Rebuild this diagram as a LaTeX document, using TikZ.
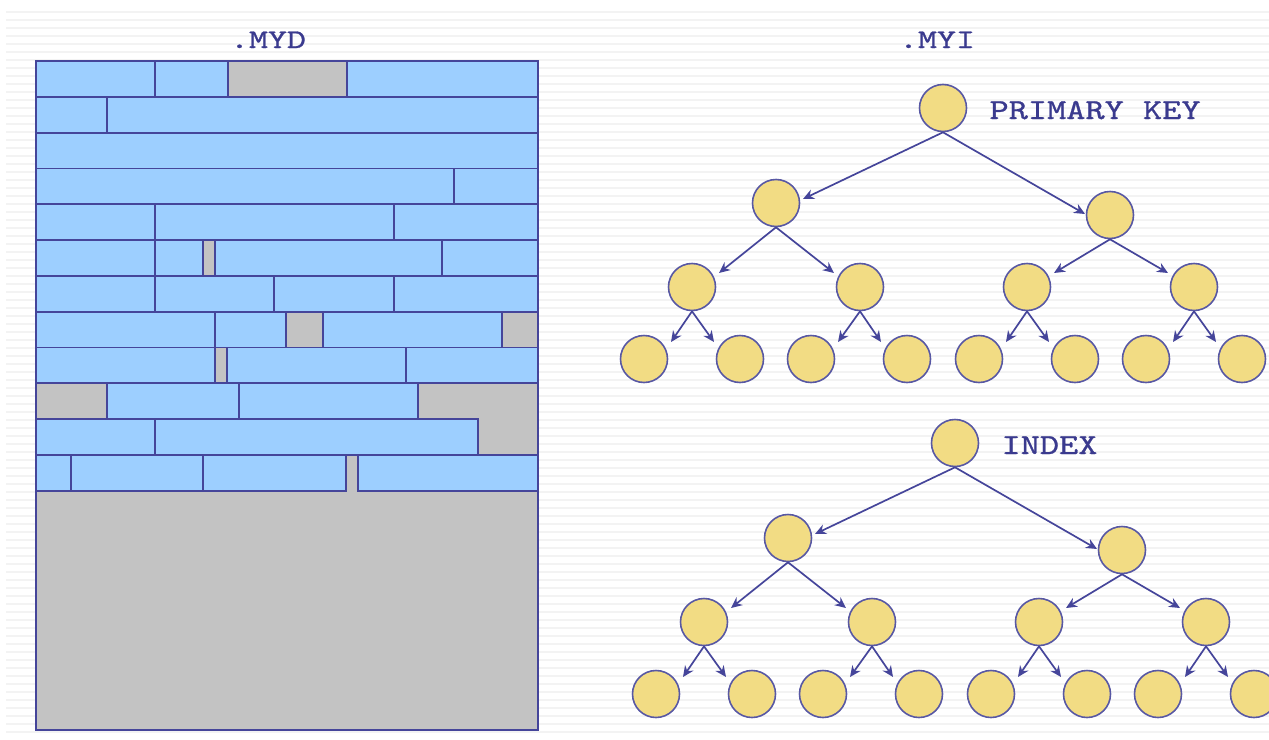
\documentclass[tikz,border=0pt]{standalone}
\usepackage{fontspec}
\newfontfamily\slabmono{lmmono10-regular.otf}[FakeStretch=1.26, FakeBold=1.0]
\newfontfamily\slabwide{lmmono10-regular.otf}[FakeStretch=1.34, FakeBold=1.0]
\usetikzlibrary{arrows.meta}

\definecolor{recblue}{HTML}{9DCFFF}
\definecolor{freegray}{HTML}{C3C3C3}
\definecolor{edgeblue}{HTML}{45459A}
\definecolor{keyyellow}{HTML}{F2DC84}
\definecolor{inkblue}{HTML}{3A3A8E}
\definecolor{texture}{HTML}{F3F3F3}

\tikzset{
  record/.style={fill=recblue, draw=edgeblue, line width=1.8pt},
  keynode/.style={circle, minimum size=47pt, inner sep=0pt, fill=keyyellow,
                  draw=edgeblue!90, line width=1.6pt},
  link/.style={draw=edgeblue, line width=1.7pt, -{Stealth[length=11pt,width=10pt]}},
  filetitle/.style={font=\slabwide\fontsize{27}{27}\selectfont, text=inkblue, anchor=base},
  treelabel/.style={font=\slabmono\fontsize{29}{29}\selectfont, text=inkblue, anchor=base west},
}

% a complete binary tree of depth three with a caption next to its root
\newcommand\keytree[2]{%
  \node[keynode] (#1r) at (943,108) {};
  \node[treelabel] (#1lbl) at (986,119) {#2};
  \node[keynode] (#1a) at (776,203) {};
  \node[keynode] (#1b) at (1110,215) {};
  \node[keynode] (#1aa) at (692,287) {};
  \node[keynode] (#1ab) at (860,287) {};
  \node[keynode] (#1ba) at (1027,287) {};
  \node[keynode] (#1bb) at (1194,287) {};
  \node[keynode] (#1aaa) at (644,359) {};
  \node[keynode] (#1aab) at (740,359) {};
  \node[keynode] (#1aba) at (811,359) {};
  \node[keynode] (#1abb) at (907,359) {};
  \node[keynode] (#1baa) at (979,359) {};
  \node[keynode] (#1bab) at (1075,359) {};
  \node[keynode] (#1bba) at (1146,359) {};
  \node[keynode] (#1bbb) at (1242,359) {};
  \draw[link] (#1r.south) -- ([shift={(27,-4)}]#1a.center);
  \draw[link] (#1r.south) -- ([shift={(-25,-1)}]#1b.center);
  \foreach \p in {a,b}{
    \draw[link] (#1\p.south) -- ([shift={(27,-14)}]#1\p a.center);
    \draw[link] (#1\p.south) -- ([shift={(-26,-14)}]#1\p b.center);
  }
  \foreach \p in {aa,ab,ba,bb}{
    \draw[link] (#1\p.south) -- ([shift={(27,-17)}]#1\p a.center);
    \draw[link] (#1\p.south) -- ([shift={(-26,-17)}]#1\p b.center);
  }
}

\begin{document}
\begin{tikzpicture}[x=1pt, y=-1pt]
  \useasboundingbox (0,0) rectangle (1269,739);
  \clip (0,0) rectangle (1269,739);

  % faint striped slide background
  \foreach \y in {12,20,...,736}
    \draw[texture, line width=1.4pt] (6,\y) -- (1269,\y);

  % .MYD data file: records packed row by row, free space in gray
  \node[filetitle] (myd) at (268,48) {.MYD};
  \fill[freegray] (36,61) rectangle (538,730);
  \foreach \k/\segs in {
      0/{36/155,155/228,347/538},
      1/{36/107,107/538},
      2/{36/538},
      3/{36/454,454/538},
      4/{36/155,155/394,394/538},
      5/{36/155,155/203,215/442,442/538},
      6/{36/155,155/274,274/394,394/538},
      7/{36/215,215/286,323/502},
      8/{36/215,227/406,406/538},
      9/{107/239,239/418},
      10/{36/155,155/478},
      11/{36/71,71/203,203/346,358/538}}{
    \foreach \a/\b in \segs
      \draw[record] (\a,{61+35.8*\k}) rectangle (\b,{61+35.8*(\k+1)});
  }
  \draw[edgeblue, line width=2pt] (36,61) rectangle (538,730);

  % .MYI index file: one tree per index
  \node[filetitle] (myi) at (937,48) {.MYI};
  \keytree{pk}{PRIMARY KEY}
  \begin{scope}[shift={(12,335)}]
    \keytree{ix}{INDEX}
  \end{scope}
\end{tikzpicture}
\end{document}
